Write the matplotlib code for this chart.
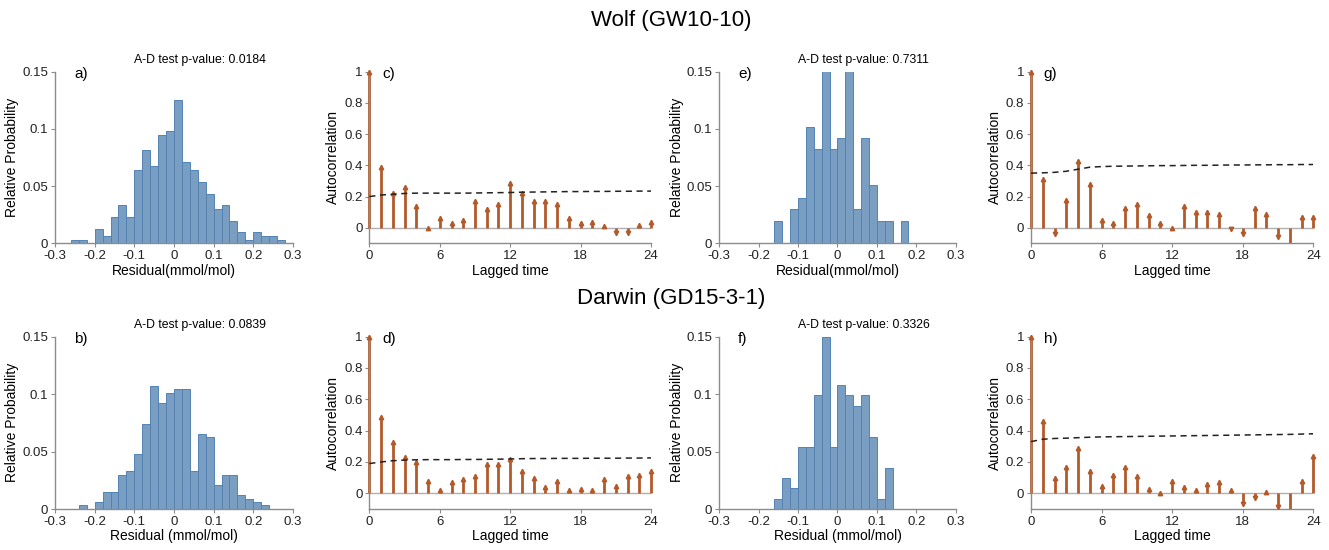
import numpy as np
import matplotlib.pyplot as plt

plt.rcParams['font.family'] = ['Liberation Sans', 'DejaVu Sans']

# histogram: first bin edge and relative probabilities, bins 0.02 wide
bin_w = 0.02

a_start = -0.26
a_prob = [0.003, 0.003, 0.0, 0.013, 0.0064, 0.023, 0.0335, 0.023, 0.064, 0.0816,
          0.0676, 0.0947, 0.0985, 0.125, 0.0708, 0.064, 0.0533, 0.043, 0.030, 0.0335,
          0.020, 0.010, 0.003, 0.010, 0.0064, 0.0064, 0.003]

b_start = -0.24
b_prob = [0.0038, 0.0, 0.0064, 0.015, 0.015, 0.030, 0.033, 0.048, 0.074, 0.107,
          0.092, 0.101, 0.104, 0.104, 0.033, 0.065, 0.063, 0.021, 0.030, 0.030,
          0.0125, 0.009, 0.0064, 0.0038]

e_start = -0.16
e_prob = [0.02, 0.0, 0.03, 0.04, 0.102, 0.082, 0.153, 0.082, 0.092, 0.153,
          0.03, 0.092, 0.051, 0.02, 0.02, 0.0, 0.02]

f_start = -0.16
f_prob = [0.009, 0.027, 0.018, 0.054, 0.054, 0.099, 0.15, 0.054, 0.108, 0.099,
          0.090, 0.099, 0.063, 0.009, 0.036]

pvals = {'a': '0.0184', 'b': '0.0839', 'e': '0.7311', 'f': '0.3326'}

# autocorrelation, lags 0..24
lags = np.arange(25)
c_acf = [1.0, 0.39, 0.22, 0.26, 0.14, 0.0, 0.06, 0.03, 0.05, 0.17, 0.12, 0.15, 0.29,
         0.22, 0.17, 0.17, 0.15, 0.06, 0.03, 0.04, 0.01, -0.03, -0.03, 0.02, 0.04]
c_bound = [0.20, 0.21, 0.215, 0.22, 0.222, 0.222, 0.222, 0.222, 0.222, 0.223, 0.224, 0.225,
           0.226, 0.228, 0.229, 0.23, 0.231, 0.232, 0.232, 0.233, 0.233, 0.234, 0.234, 0.235, 0.235]

d_acf = [1.0, 0.49, 0.33, 0.23, 0.20, 0.08, 0.02, 0.07, 0.09, 0.11, 0.19, 0.19, 0.22,
         0.14, 0.10, 0.04, 0.08, 0.02, 0.03, 0.02, 0.09, 0.05, 0.11, 0.12, 0.14]
d_bound = [0.19, 0.20, 0.208, 0.212, 0.214, 0.215, 0.215, 0.215, 0.216, 0.216, 0.217, 0.218,
           0.219, 0.221, 0.222, 0.222, 0.223, 0.223, 0.223, 0.224, 0.224, 0.224, 0.225, 0.225, 0.226]

g_acf = [1.0, 0.31, -0.04, 0.18, 0.43, 0.28, 0.05, 0.03, 0.13, 0.15, 0.08, 0.03, 0.0,
         0.14, 0.10, 0.10, 0.09, -0.01, -0.04, 0.13, 0.09, -0.06, -0.12, 0.07, 0.07]
g_bound = [0.35, 0.352, 0.355, 0.362, 0.375, 0.388, 0.392, 0.394, 0.395, 0.396, 0.397, 0.398,
           0.398, 0.399, 0.40, 0.40, 0.401, 0.402, 0.402, 0.403, 0.403, 0.404, 0.404, 0.405, 0.405]

h_acf = [1.0, 0.46, 0.10, 0.17, 0.29, 0.14, 0.05, 0.12, 0.17, 0.11, 0.03, 0.0, 0.08,
         0.04, 0.02, 0.06, 0.07, 0.02, -0.07, -0.03, 0.01, -0.09, -0.12, 0.08, 0.24]
h_bound = [0.33, 0.345, 0.35, 0.352, 0.355, 0.358, 0.36, 0.361, 0.362, 0.363, 0.364, 0.365,
           0.366, 0.367, 0.368, 0.369, 0.37, 0.371, 0.372, 0.373, 0.374, 0.375, 0.376, 0.378, 0.38]

bar_face = '#7a9ec2'
bar_edge = '#5283b4'
stem_col = '#b25a2a'
spine_col = '#8c8c8c'

fig = plt.figure(figsize=(13.29, 5.5), dpi=100)

rows = {'top': (0.5573, 0.3127), 'bottom': (0.0745, 0.3136)}
cols_hist = [(0.0414, 0.179), (0.5412, 0.1779)]
cols_acf = [(0.2779, 0.212), (0.7758, 0.2124)]


def style_axes(ax):
    for s in ['top', 'right']:
        ax.spines[s].set_visible(False)
    for s in ['left', 'bottom']:
        ax.spines[s].set_color(spine_col)
        ax.spines[s].set_linewidth(1.0)
    ax.tick_params(direction='out', length=3, width=0.8, color=spine_col,
                   labelsize=9.5, labelcolor='#222222', pad=2)


def hist_panel(rect, start, prob, letter, xlabel):
    ax = fig.add_axes(rect)
    left = start + bin_w * np.arange(len(prob))
    ax.bar(left, prob, width=bin_w, align='edge', color=bar_face,
           edgecolor=bar_edge, linewidth=0.7)
    ax.set_xlim(-0.3, 0.3)
    ax.set_ylim(0, 0.15)
    ax.set_xticks([-0.3, -0.2, -0.1, 0, 0.1, 0.2, 0.3])
    ax.set_xticklabels(['-0.3', '-0.2', '-0.1', '0', '0.1', '0.2', '0.3'])
    ax.set_yticks([0, 0.05, 0.1, 0.15])
    ax.set_yticklabels(['0', '0.05', '0.1', '0.15'])
    ax.set_xlabel(xlabel, fontsize=10, labelpad=1)
    ax.set_ylabel('Relative Probability', fontsize=10, labelpad=2)
    style_axes(ax)
    ax.text(0.08, 0.985, letter + ')', transform=ax.transAxes, fontsize=11,
            va='center', ha='left')
    ax.text(0.61, 1.065, 'A-D test p-value: ' + pvals[letter], transform=ax.transAxes,
            fontsize=8.8, va='center', ha='center')
    return ax


def acf_panel(rect, acf, bound, letter):
    ax = fig.add_axes(rect)
    acf = np.array(acf)
    ylo, yhi = -0.1, 1.0
    ax.axhline(0, color='#b0b0b0', linewidth=1.0, zorder=1)
    ax.vlines(lags, 0, np.clip(acf, ylo, yhi), color=stem_col, linewidth=2.0,
              zorder=2, clip_on=False)
    vis = (acf >= ylo) & (acf <= yhi)
    up = vis & (acf >= 0)
    dn = vis & (acf < 0)
    ax.plot(lags[up], acf[up], linestyle='none', marker='^', markersize=3.2,
            color=stem_col, clip_on=False, zorder=3)
    ax.plot(lags[dn], acf[dn], linestyle='none', marker='v', markersize=3.2,
            color=stem_col, clip_on=False, zorder=3)
    ax.plot(lags, bound, color='#222222', linestyle=(0, (4, 3)), linewidth=1.1, zorder=4)
    ax.set_xlim(0, 24)
    ax.set_ylim(ylo, yhi)
    ax.set_xticks([0, 6, 12, 18, 24])
    ax.set_yticks([0, 0.2, 0.4, 0.6, 0.8, 1.0])
    ax.set_yticklabels(['0', '0.2', '0.4', '0.6', '0.8', '1'])
    ax.set_xlabel('Lagged time', fontsize=10, labelpad=1)
    ax.set_ylabel('Autocorrelation', fontsize=10, labelpad=3)
    style_axes(ax)
    ax.text(0.045, 0.985, letter + ')', transform=ax.transAxes, fontsize=11,
            va='center', ha='left')
    return ax


ty, th = rows['top']
by, bh = rows['bottom']

hist_panel([cols_hist[0][0], ty, cols_hist[0][1], th], a_start, a_prob, 'a', 'Residual(mmol/mol)')
hist_panel([cols_hist[0][0], by, cols_hist[0][1], bh], b_start, b_prob, 'b', 'Residual (mmol/mol)')
hist_panel([cols_hist[1][0], ty, cols_hist[1][1], th], e_start, e_prob, 'e', 'Residual(mmol/mol)')
hist_panel([cols_hist[1][0], by, cols_hist[1][1], bh], f_start, f_prob, 'f', 'Residual (mmol/mol)')

acf_panel([cols_acf[0][0], ty, cols_acf[0][1], th], c_acf, c_bound, 'c')
acf_panel([cols_acf[0][0], by, cols_acf[0][1], bh], d_acf, d_bound, 'd')
acf_panel([cols_acf[1][0], ty, cols_acf[1][1], th], g_acf, g_bound, 'g')
acf_panel([cols_acf[1][0], by, cols_acf[1][1], bh], h_acf, h_bound, 'h')

fig.text(0.505, 0.962, 'Wolf (GW10-10)', fontsize=16, ha='center', va='center')
fig.text(0.505, 0.457, 'Darwin (GD15-3-1)', fontsize=16, ha='center', va='center')

fig.savefig('out.png', dpi=100)
